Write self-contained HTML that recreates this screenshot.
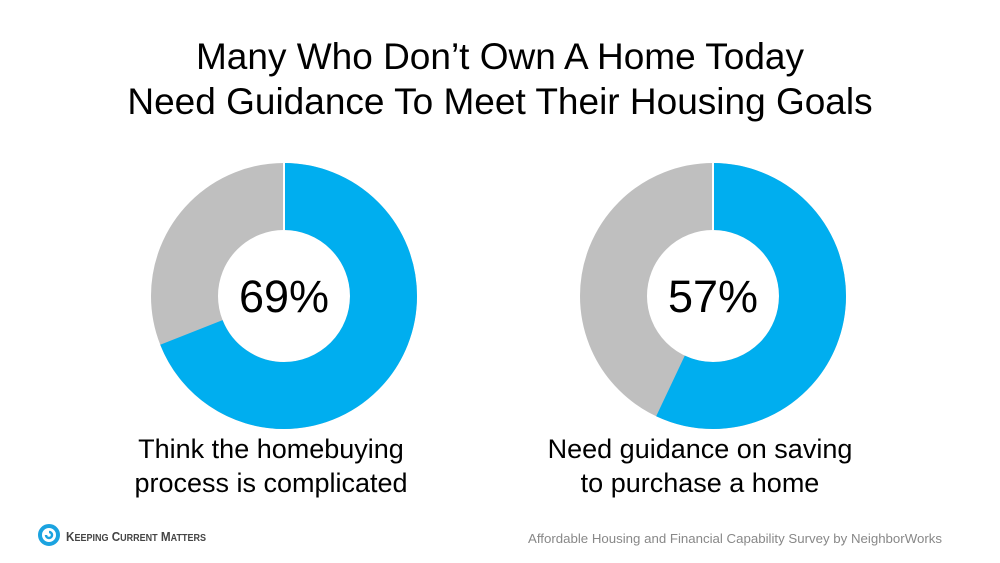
<!DOCTYPE html><html><head><style>
body{margin:0;width:1000px;height:563px;background:#fff;font-family:"Liberation Sans",sans-serif;overflow:hidden;position:relative}
.t{position:absolute;left:0;width:1000px;text-align:center;font-size:37px;color:#000;line-height:45px}
.l{position:absolute;width:400px;text-align:center;font-size:27px;line-height:34px;color:#000}
</style></head><body>
<div class="t" style="top:34px">Many Who Don’t Own A Home Today<br>Need Guidance To Meet Their Housing Goals</div>
<svg width="1000" height="563" style="position:absolute;left:0;top:0">
<g transform="translate(284,296)">
<circle r="99.5" fill="none" stroke="#bfbfbf" stroke-width="67"/>
<circle r="99.5" fill="none" stroke="#00aeef" stroke-width="67" stroke-dasharray="431.4 1000" transform="rotate(-90)"/>
<line x1="0" y1="-133" x2="0" y2="-66" stroke="#fff" stroke-width="2"/>
<text y="16" text-anchor="middle" font-size="45" font-family="Liberation Sans">69%</text></g>
<g transform="translate(713,296)">
<circle r="99.5" fill="none" stroke="#bfbfbf" stroke-width="67"/>
<circle r="99.5" fill="none" stroke="#00aeef" stroke-width="67" stroke-dasharray="356.4 1000" transform="rotate(-90)"/>
<line x1="0" y1="-133" x2="0" y2="-66" stroke="#fff" stroke-width="2"/>
<text y="16" text-anchor="middle" font-size="45" font-family="Liberation Sans">57%</text></g>
<g transform="translate(49,535)">
<circle r="9" fill="none" stroke="#1ba3e0" stroke-width="4"/>
<path d="M0,-3 a3,3 0 1 1 -3,3" fill="none" stroke="#1ba3e0" stroke-width="2.5"/>
</g>
<text x="66" y="541" font-size="13" font-weight="bold" fill="#444" font-family="Liberation Sans" textLength="140" lengthAdjust="spacingAndGlyphs">K<tspan font-size="10">EEPING</tspan> C<tspan font-size="10">URRENT</tspan> M<tspan font-size="10">ATTERS</tspan></text>
<text x="942" y="543" text-anchor="end" font-size="13" fill="#888" font-family="Liberation Sans" textLength="414" lengthAdjust="spacingAndGlyphs">Affordable Housing and Financial Capability Survey by NeighborWorks</text>
</svg>
<div class="l" style="left:71px;top:432px">Think the homebuying<br>process is complicated</div>
<div class="l" style="left:500px;top:432px">Need guidance on saving<br>to purchase a home</div>
</body></html>
